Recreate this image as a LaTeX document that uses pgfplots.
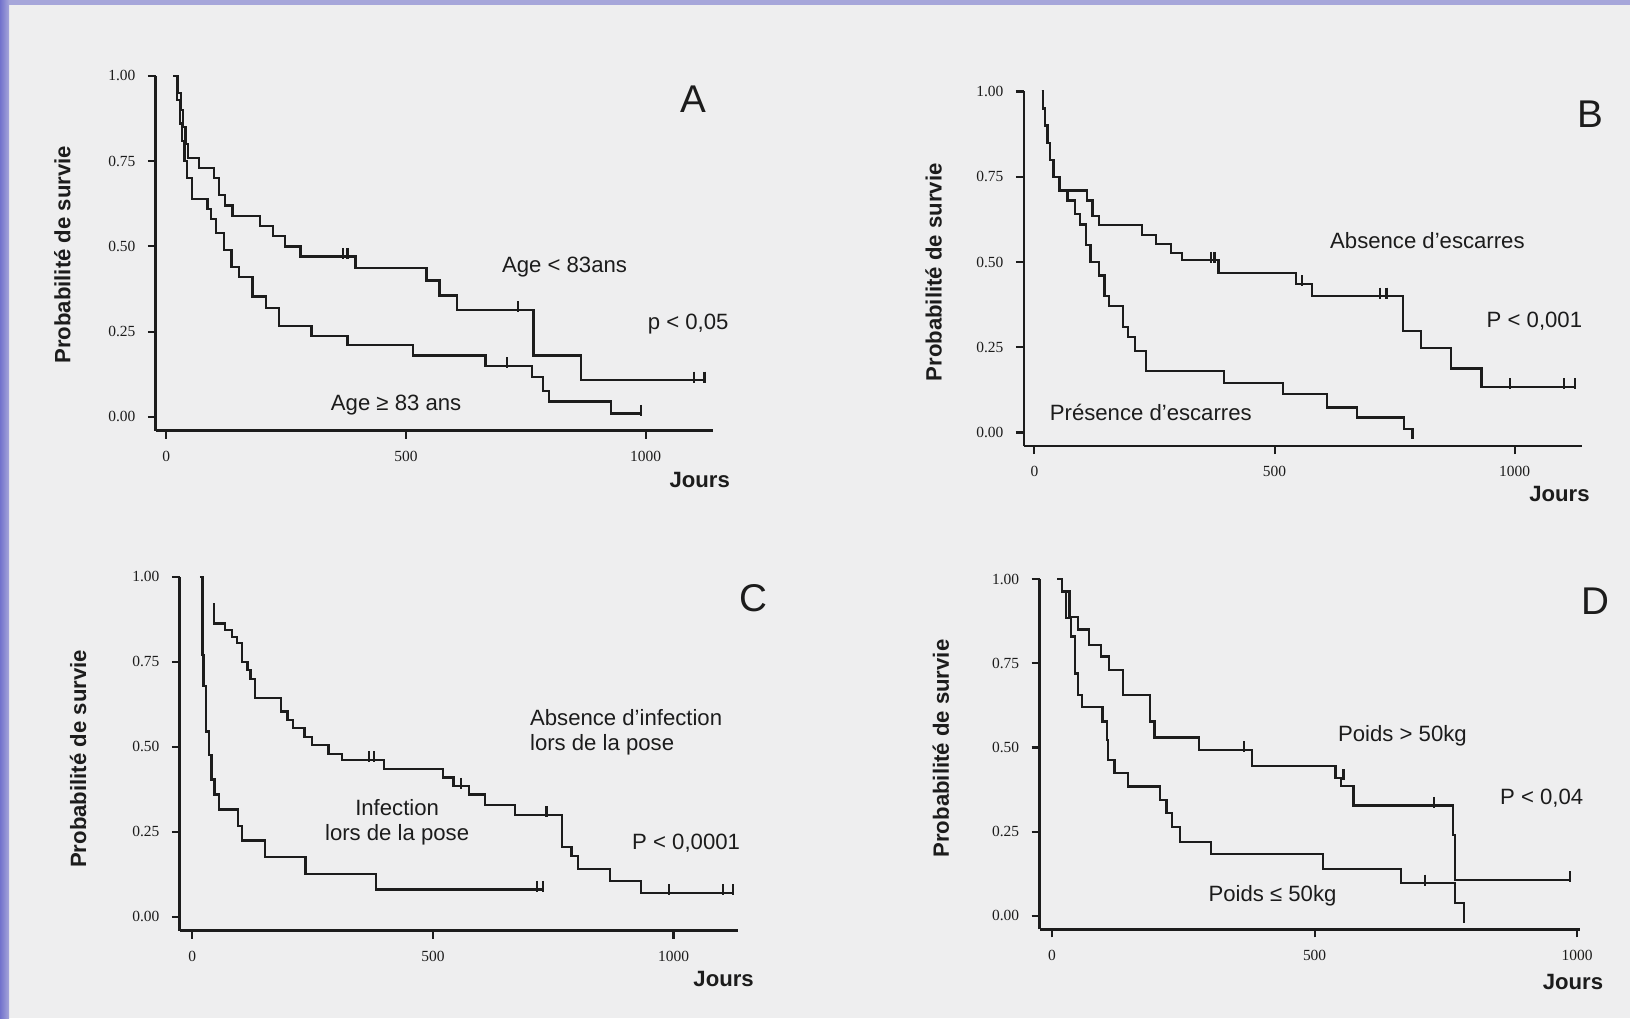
\documentclass[border=0pt]{standalone}
\usepackage{fontspec}
\setmainfont{Liberation Sans}
\newfontfamily\tickfont{Liberation Serif}
\usepackage{pgfplots}
\pgfplotsset{compat=1.18}

\definecolor{paper}{HTML}{EEEEEF}
\definecolor{ink}{HTML}{1C1C1C}
\definecolor{edge}{HTML}{A6A6DA}
\definecolor{edgedark}{HTML}{7272CC}

\pgfplotsset{
  km/.style={
    anchor=origin,
    axis x line=bottom, axis y line=left,
    axis line style={ink, line width=0.75pt, -},
    ytick={0,0.25,0.5,0.75,1}, yticklabels={0.00,0.25,0.50,0.75,1.00},
    xtick={0,500,1000}, xticklabels={0,500,1000},
    tick align=outside, major tick length=0.8mm,
    tick style={ink, line width=0.6pt},
    ticklabel style={font=\tickfont\fontsize{4.4}{5}\selectfont, text=ink},
    ymin=-0.04, ymax=1.0,
    clip=false,
  },
  surv/.style={const plot, ink, line width=0.65pt, no markers},
  cens/.style={only marks, mark=|, mark size=0.55mm, ink,
    mark options={line width=0.6pt, yshift=0.3mm}},
}

\newcommand{\lab}{\fontsize{6.3}{7}\selectfont}
\newcommand{\panel}{\fontsize{11}{12}\selectfont}
\newcommand{\ylab}{\fontsize{6.3}{7}\selectfont\bfseries}

\begin{document}
\begin{tikzpicture}[x=0.1mm, y=0.1mm]
\useasboundingbox (0,0) rectangle (1630,1018);
\fill[paper] (0,0) rectangle (1630,1018);
\fill[edge] (0,1013) rectangle (1630,1018);
\shade[left color=edgedark, right color=edge] (0,0) rectangle (9,1018);

% ---------- A
\begin{axis}[km, at={(16.63mm,60.11mm)}, x=0.04793mm, y=34.1mm, xmin=-22, xmax=1140]
\addplot[surv] coordinates {
(20,1.00)(25,0.95)(30,0.90)(35,0.85)(40,0.80)(45,0.76)(68,0.73)(100,0.70)
(110,0.65)(122,0.62)(138,0.59)(195,0.56)(223,0.53)(248,0.50)(280,0.47)
(395,0.436)(543,0.40)(570,0.356)(606,0.314)(766,0.18)(865,0.108)(1123,0.108)};
\addplot[cens] coordinates {(368,0.47)(378,0.47)(733,0.314)(1101,0.108)(1123,0.108)};
\addplot[surv] coordinates {
(15,1.00)(22,0.93)(28,0.86)(33,0.81)(38,0.75)(43,0.70)(53,0.64)(86,0.61)
(94,0.58)(103,0.54)(120,0.49)(136,0.44)(151,0.41)(180,0.353)(208,0.32)
(235,0.266)(303,0.238)(378,0.21)(515,0.18)(666,0.15)(763,0.116)(786,0.076)
(798,0.045)(928,0.01)(991,0.01)};
\addplot[cens] coordinates {(710,0.15)(991,0.01)};
\end{axis}
\node[text=ink, font=\panel] at (693.4,1018-98.8) {A};
\node[text=ink, font=\lab] at (564.5,1018-267.2) {Age < 83ans};
\node[text=ink, font=\lab] at (688.2,1018-324.4) {p < 0,05};
\node[text=ink, font=\lab] at (396.1,1018-405.4) {Age ≥ 83 ans};
\node[text=ink, font=\lab\bfseries] at (699.7,1018-480.3) {Jours};
\node[text=ink, font=\ylab, rotate=90] at (62.4,1018-254.7) {Probabilité de survie};

% ---------- B
\begin{axis}[km, at={(103.44mm,58.55mm)}, x=0.04803mm, y=34.1mm, xmin=-22, xmax=1141]
\addplot[surv] coordinates {
(15,1.0)(18,0.95)(22,0.90)(27,0.85)(33,0.80)(40,0.75)(52,0.71)(109,0.68)
(121,0.634)(135,0.608)(224,0.58)(253,0.553)(284,0.527)(307,0.505)(383,0.468)
(544,0.436)(578,0.40)(767,0.298)(805,0.247)(868,0.188)(931,0.134)(1126,0.134)};
\addplot[cens] coordinates {(367,0.505)(375,0.505)(557,0.436)(719,0.40)(733,0.40)(991,0.134)(1103,0.134)(1126,0.134)};
\addplot[surv] coordinates {
(15,1.0)(18,0.95)(22,0.90)(27,0.85)(33,0.80)(40,0.75)(52,0.71)(69,0.68)
(84,0.64)(95,0.61)(107,0.55)(117,0.50)(134,0.46)(146,0.40)(155,0.37)
(184,0.31)(195,0.28)(210,0.24)(232,0.18)(394,0.146)(517,0.112)(609,0.073)
(672,0.044)(770,0.01)(787,-0.02)};
\end{axis}
\node[text=ink, font=\panel] at (1590.6,1018-114.4) {B};
\node[text=ink, font=\lab] at (1427.4,1018-240.1) {Absence d'escarres};
\node[text=ink, font=\lab] at (1534.4,1018-321.2) {P < 0,001};
\node[text=ink, font=\lab] at (1150.8,1018-412.7) {Présence d'escarres};
\node[text=ink, font=\lab\bfseries] at (1559.4,1018-493.8) {Jours};
\node[text=ink, font=\ylab, rotate=90] at (933.6,1018-272.4) {Probabilité de survie};

% ---------- C
\begin{axis}[km, at={(19.23mm,10.11mm)}, x=0.04813mm, y=34.0mm, xmin=-26, xmax=1134]
\addplot[surv] coordinates {
(43,0.92)(45,0.863)(68,0.844)(83,0.824)(93,0.805)(103,0.75)(115,0.726)
(121,0.70)(131,0.643)(185,0.604)(198,0.58)(210,0.555)(233,0.53)(248,0.506)
(283,0.48)(311,0.462)(398,0.435)(521,0.41)(543,0.384)(575,0.36)(608,0.33)
(671,0.30)(768,0.205)(788,0.18)(801,0.14)(868,0.106)(933,0.071)(1123,0.071)};
\addplot[cens] coordinates {(368,0.462)(378,0.462)(558,0.384)(736,0.30)(991,0.071)(1103,0.071)(1123,0.071)};
\addplot[surv] coordinates {
(16,1.0)(21,0.77)(23,0.68)(28,0.545)(35,0.477)(40,0.404)(46,0.36)(56,0.316)
(95,0.267)(103,0.225)(151,0.176)(235,0.127)(381,0.081)(728,0.081)};
\addplot[cens] coordinates {(716,0.081)(728,0.081)};
\end{axis}
\node[text=ink, font=\panel] at (753.7,1018-597.8) {C};
\node[text=ink, font=\lab, align=left, anchor=west] at (517.7,1018-732.4) {Absence d'infection\\lors de la pose};
\node[text=ink, font=\lab, align=center] at (397.1,1018-822.0) {Infection\\lors de la pose};
\node[text=ink, font=\lab] at (686.1,1018-843.1) {P < 0,0001};
\node[text=ink, font=\lab\bfseries] at (723.6,1018-979.3) {Jours};
\node[text=ink, font=\ylab, rotate=90] at (78.0,1018-758.9) {Probabilité de survie};

% ---------- D
\begin{axis}[km, at={(105.21mm,10.21mm)}, x=0.0525mm, y=33.68mm, xmin=-24, xmax=1006]
\addplot[surv] coordinates {
(10,1.0)(19,0.963)(33,0.887)(49,0.85)(70,0.805)(93,0.77)(109,0.73)(135,0.656)
(187,0.577)(195,0.53)(280,0.493)(381,0.446)(540,0.41)(550,0.386)(574,0.328)
(763,0.24)(768,0.107)(987,0.107)};
\addplot[cens] coordinates {(366,0.493)(555,0.41)(727,0.328)(987,0.107)};
\addplot[surv] coordinates {
(10,1.0)(19,0.963)(26,0.884)(36,0.83)(44,0.72)(50,0.656)(57,0.62)(96,0.577)
(104,0.523)(106,0.463)(119,0.424)(145,0.384)(206,0.345)(218,0.305)(228,0.263)
(244,0.22)(303,0.184)(516,0.139)(665,0.097)(768,0.038)(784,-0.02)};
\addplot[cens] coordinates {(710,0.097)};
\end{axis}
\node[text=ink, font=\panel] at (1595.8,1018-600.9) {D};
\node[text=ink, font=\lab] at (1402.4,1018-736.0) {Poids > 50kg};
\node[text=ink, font=\lab] at (1541.7,1018-798.4) {P < 0,04};
\node[text=ink, font=\lab] at (1272.5,1018-896.1) {Poids ≤ 50kg};
\node[text=ink, font=\lab\bfseries] at (1572.9,1018-982.4) {Jours};
\node[text=ink, font=\ylab, rotate=90] at (940.8,1018-748.5) {Probabilité de survie};
\end{tikzpicture}
\end{document}
